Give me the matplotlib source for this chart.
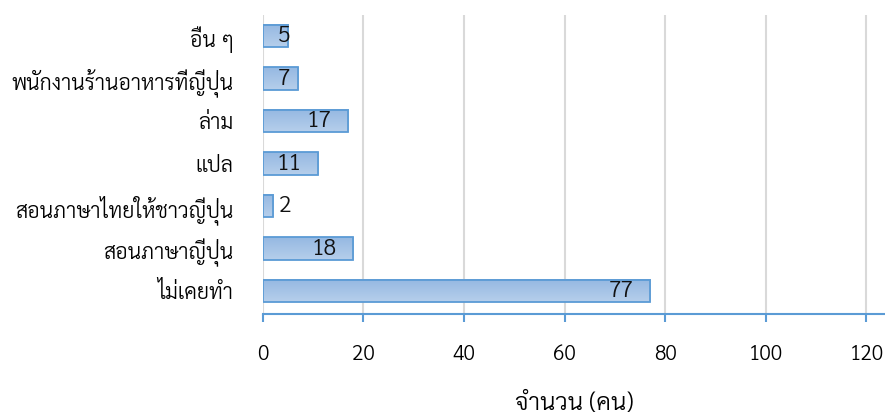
import matplotlib
matplotlib.use("Agg")
import matplotlib.pyplot as plt
import numpy as np
from matplotlib import font_manager
from matplotlib.colors import LinearSegmentedColormap
from fontTools.ttLib import TTFont

# หาฟอนต์ที่มีอักษรไทย (ต้องใช้ Sarabun ถ้ามี)
thai_fonts = set()
for f in font_manager.fontManager.ttflist:
    try:
        cmap = TTFont(f.fname, fontNumber=0, lazy=True).getBestCmap()
        if cmap and 0x0E01 in cmap and 0x0E33 in cmap:
            thai_fonts.add(f.name)
    except Exception:
        pass
prefer = ["Sarabun", "Noto Sans Thai Looped", "Noto Sans Thai"]
thai = [p for p in prefer if p in thai_fonts][:1] or sorted(thai_fonts)[:1]

categories = ["ไม่เคยทำ", "สอนภาษาญี่ปุ่น", "สอนภาษาไทยให้ชาวญี่ปุ่น", "แปล", "ล่าม",
              "พนักงานร้านอาหารที่ญี่ปุ่น", "อื่น ๆ"]
values = [77, 18, 2, 11, 17, 7, 5]
xticks = [0, 20, 40, 60, 80, 100, 120]
xlabel = "จำนวน (คน)"

plt.rcParams['font.family'] = thai + ["DejaVu Sans"]
plt.rcParams['font.weight'] = 300
plt.rcParams['axes.labelweight'] = 300

fig = plt.figure(figsize=(8.85, 4.16), dpi=100)
ax = fig.add_axes([262.7/885, 1-313.5/416, (885-262.7)/885, 298.5/416])

y = list(range(len(categories)))
h = 0.53
ax.barh(y, values, height=h, color="none", edgecolor="#5b9bd5", linewidth=1.3, zorder=4)
# ไล่สีในแท่ง (บนอ่อน ล่างเข้ม)
grad = LinearSegmentedColormap.from_list("g", ["#b6cfeb", "#95b8e2"])
for yi, v in zip(y, values):
    ax.imshow(np.linspace(0, 1, 50).reshape(-1, 1), cmap=grad, aspect="auto",
              extent=[0, v, yi + h/2, yi - h/2], origin="upper", zorder=3)

# ป้ายค่า: ชิดปลายแท่งด้านใน, แท่งสั้นมากไว้นอกแท่ง
for yi, v in zip(y, values):
    s = str(v)
    if v < 4:
        ax.text(v + 1.2, yi, s, ha="left", va="center", fontsize=16.5, color="#111111", zorder=5)
    elif v - 3.4 - 2.2*len(s) < 3.0:
        ax.text(2.95, yi, s, ha="left", va="center", fontsize=16.5, color="#111111", zorder=5)
    else:
        ax.text(v - 3.3, yi, s, ha="right", va="center", fontsize=16.5, color="#111111", zorder=5)

ax.set_xlim(0, 123.7)
ax.set_ylim(-0.53, 6.5)
ax.set_xticks(xticks)
ax.set_yticks(y)
ax.set_yticklabels(categories, fontsize=15.3)
ax.grid(axis="x", color="#d9d9d9", linewidth=1.5, zorder=0)
for s in ["top", "right", "left"]:
    ax.spines[s].set_visible(False)
ax.spines["bottom"].set_color("#5b9bd5")
ax.spines["bottom"].set_linewidth(1.5)
ax.spines["bottom"].set_zorder(6)
ax.tick_params(axis="x", direction="out", length=6, color="#5b9bd5", width=1.5, labelsize=15, pad=16)
ax.tick_params(axis="y", length=0, pad=21)
ax.set_xlabel(xlabel, fontsize=17.5, fontweight=300, labelpad=19)

fig.savefig("out.png", dpi=100)
